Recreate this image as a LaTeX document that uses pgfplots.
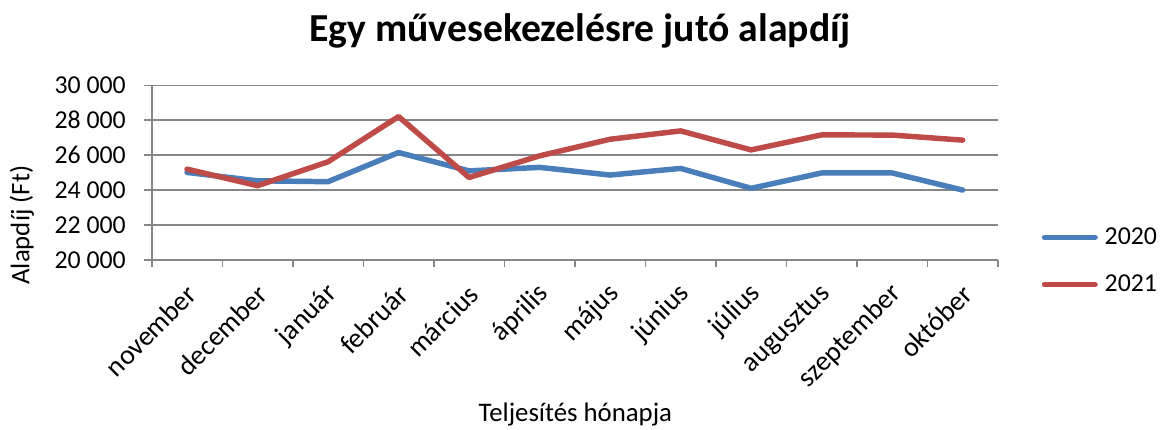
\documentclass[border=0pt]{standalone}
\usepackage{pgfplots}
\pgfplotsset{compat=1.18}
\usepackage{fontspec}
\setmainfont{Carlito}
\definecolor{blueS}{HTML}{4A7EBB}
\definecolor{redS}{HTML}{BE4B48}
\definecolor{gridC}{HTML}{878787}
\begin{document}
\begin{tikzpicture}
\begin{axis}[
  at={(0,0)}, anchor=south west,
  scale only axis, width=853pt, height=176pt,
  xmin=0.5, xmax=12.5, ymin=20000, ymax=30000,
  scaled y ticks=false,
  xtick={1,...,12},
  xticklabels={november,december,január,február,március,április,május,június,július,augusztus,szeptember,október},
  minor xtick={0.5,1.5,...,12.5},
  ytick={20000,22000,...,30000},
  minor ytick={20000,22000,...,30000},
  yticklabels={20\ 000,22\ 000,24\ 000,26\ 000,28\ 000,30\ 000},
  axis x line*=bottom, axis y line*=left,
  axis line style={gridC, line width=1.5pt, -},
  every tick/.style={gridC, line width=1.5pt},
  major tick length=0pt, minor tick length=7.5pt,
  tick align=outside,
  ymajorgrids, major grid style={gridC, line width=1.5pt},
  yticklabel style={font=\fontsize{26}{30}\selectfont, text=black, anchor=east, inner sep=0pt, xshift=-26pt},
  xticklabel style={font=\fontsize{28}{32}\selectfont, text=black, xshift=5pt, yshift=-30pt, rotate=45, anchor=east, inner sep=0pt},
  clip=false,
  legend style={draw=none, fill=none, at={(axis description cs:1.0457,-0.0085)}, anchor=west,
    font=\fontsize{26}{30}\selectfont,
    nodes={inner sep=0pt, text height=17pt, text depth=3pt},
    row sep=27pt, column sep=5pt},
  legend image code/.code={\draw[#1, line width=5.5pt, line cap=round] (2pt,0) -- (53pt,0); \path (0,-8pt) (55pt,0);},
]
\addplot[blueS, line width=5.5pt, line join=round, line cap=round] coordinates {
(1,25010) (2,24530) (3,24480) (4,26150) (5,25100) (6,25300)
(7,24860) (8,25240) (9,24100) (10,24980) (11,24980) (12,24000)};
\addlegendentry{2020}
\addplot[redS, line width=5.5pt, line join=round, line cap=round] coordinates {
(1,25200) (2,24250) (3,25620) (4,28210) (5,24720) (6,25960)
(7,26910) (8,27390) (9,26300) (10,27160) (11,27150) (12,26860)};
\addlegendentry{2021}
\node[font=\fontsize{40}{44}\selectfont\bfseries, anchor=base] at (axis description cs:0.506,1.2517) {Egy művesekezelésre jutó alapdíj};
\node[font=\fontsize{27}{31}\selectfont, anchor=base] at (axis description cs:0.5006,-0.926) {Teljesítés hónapja};
\node[font=\fontsize{27}{31}\selectfont, rotate=90] at (axis description cs:-0.1536,0.199) {Alapdíj (Ft)};
\end{axis}
\useasboundingbox (-153pt,-168pt) rectangle (1007pt,262pt);
\end{tikzpicture}
\end{document}
